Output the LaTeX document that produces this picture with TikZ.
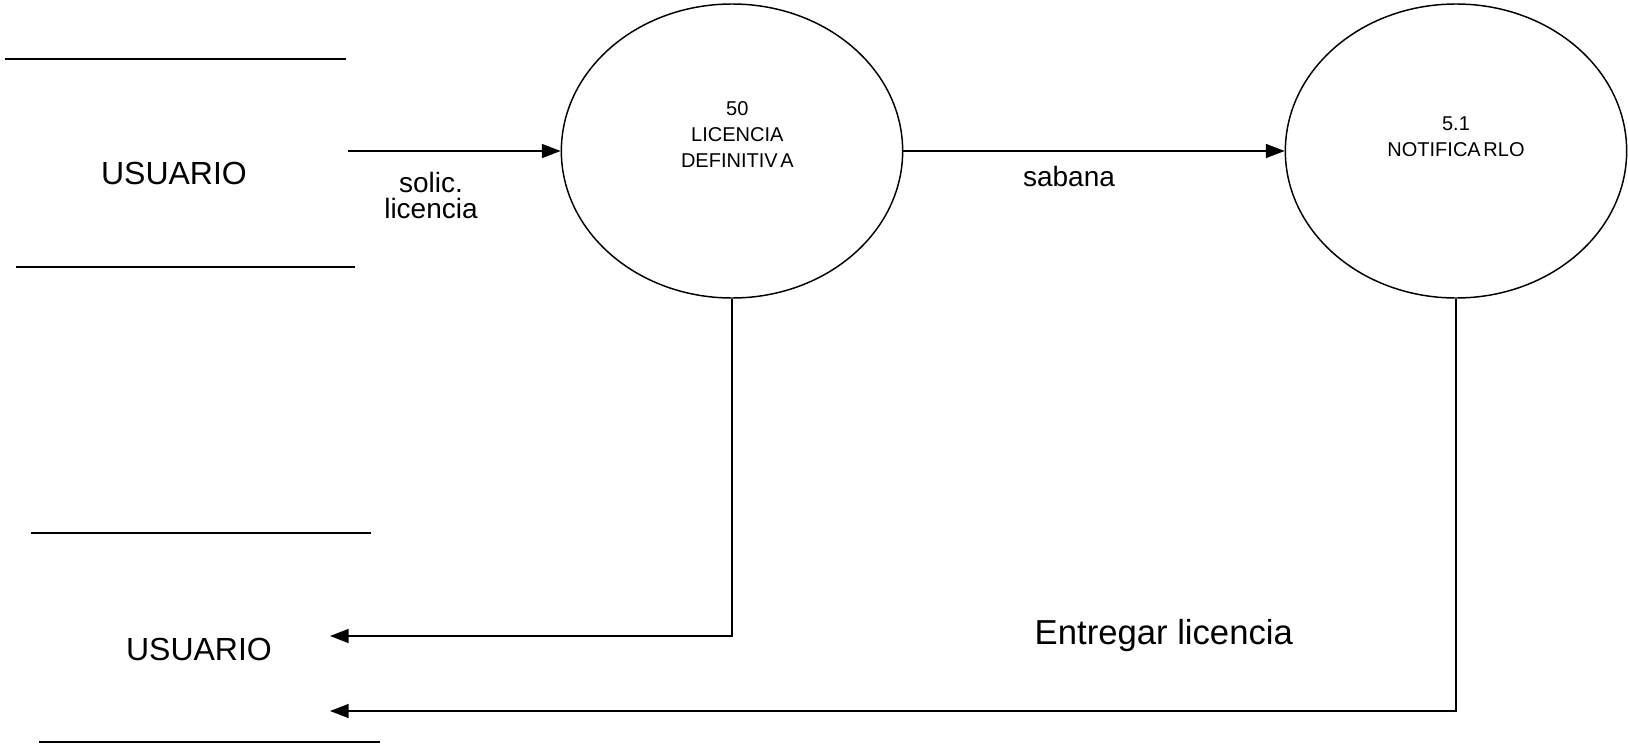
\documentclass[tikz,border=0pt]{standalone}
\usepackage{fontspec}
\setmainfont{Liberation Sans}
\usetikzlibrary{shapes.geometric,arrows.meta}
\tikzset{
  proc/.style={draw,ellipse,line width=1.1pt,minimum width=256pt,minimum height=220.5pt,inner sep=0pt},
  proctext/.style={align=center,font=\fontsize{15}{19.5}\selectfont},
  flow/.style={line width=1.1pt,-{Triangle[length=14pt,width=10.5pt]}},
  store/.style={line width=1.1pt},
  entity/.style={font=\fontsize{24}{28}\selectfont},
  flowtext/.style={align=center,font=\fontsize{21}{19.5}\selectfont},
}
\begin{document}
\begin{tikzpicture}[x=0.75pt,y=-0.75pt]
  \useasboundingbox (0,0) rectangle (1628,746);
  % processes
  \node[proc] (p50) at (732,151) {};
  \node[proc] (p51) at (1456,151) {};
  \node[proctext] (t50) at ([xshift=4pt,yshift=12pt]p50.center) {50\\LICENCIA\\DEFINITIV\kern2pt A};
  \node[proctext] (t51) at ([yshift=11pt]p51.center) {5.1\\NOTIFICA\kern2pt RLO};
  % user entities
  \node[entity] (u1) at (174,173) {USUARIO};
  \node[entity] (u2) at (199,649) {USUARIO};
  \draw[store] (5,59) -- (346,59);
  \draw[store] (16,267) -- (355,267);
  \draw[store] (31,533) -- (371,533);
  \draw[store] (39,742) -- (380,742);
  % flows
  \coordinate (s1) at (348,151);
  \coordinate (e1) at (330,636);
  \coordinate (e2) at (330,711);
  \draw[flow] (s1) -- (p50.west);
  \draw[flow] (p50.east) -- (p51.west);
  \draw[flow] (p50.south) |- (e1);
  \draw[flow] (p51.south) |- (e2);
  \node[flowtext] (solic) at (431,195) {solic.\\licencia};
  \node[flowtext] (sab) at (1069,176) {sabana};
  \node[flowtext,anchor=west,font=\fontsize{26}{30}\selectfont] (entr) at (1030,636) {Entregar licencia};
\end{tikzpicture}
\end{document}
